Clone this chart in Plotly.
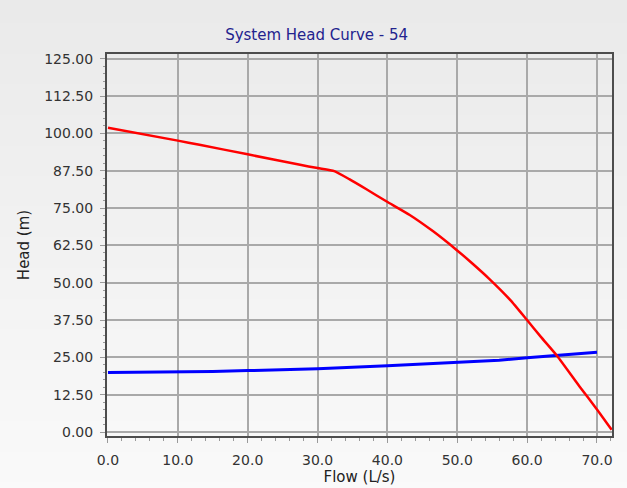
import plotly.graph_objects as go

# Data
pump_flow = [0.0, 10.0, 13.1, 20.0, 27.5, 30.0, 32.4, 34.6, 37.0, 39.9, 43.2, 46.5, 49.9, 52.0, 54.5, 57.6, 59.9, 62.0, 64.3, 67.5, 70.0, 72.1]
pump_head = [101.9, 97.6, 96.2, 93.0, 89.5, 88.4, 87.4, 84.6, 81.3, 77.2, 72.7, 67.3, 61.0, 56.8, 51.5, 44.2, 37.8, 31.8, 25.5, 15.3, 7.6, 0.8]

system_flow = [0.0, 10.0, 15.0, 20.0, 30.0, 40.0, 50.0, 56.0, 60.0, 65.0, 70.0]
system_head = [20.0, 20.1, 20.3, 20.6, 21.2, 22.2, 23.4, 24.1, 24.9, 25.8, 26.7]

x_ticks = [0, 10, 20, 30, 40, 50, 60, 70]
x_tick_labels = ["0.0", "10.0", "20.0", "30.0", "40.0", "50.0", "60.0", "70.0"]
y_ticks = [0, 12.5, 25, 37.5, 50, 62.5, 75, 87.5, 100, 112.5, 125]
y_tick_labels = ["0.00", "12.50", "25.00", "37.50", "50.00", "62.50", "75.00", "87.50", "100.00", "112.50", "125.00"]

title_text = "System Head Curve - 54"
x_title = "Flow (L/s)"
y_title = "Head (m)"

FONT = "DejaVu Sans"

fig = go.Figure()
fig.add_trace(go.Scatter(x=system_flow, y=system_head, mode="lines",
                         line=dict(color="#0000ff", width=3), showlegend=False))
fig.add_trace(go.Scatter(x=pump_flow, y=pump_head, mode="lines",
                         line=dict(color="#ff0000", width=2.5, shape="spline", smoothing=0.5),
                         showlegend=False))

# background gradient (decoration)
shapes = []
n = 40
c_top = (233, 233, 233)
c_bot = (253, 253, 253)
for i in range(n):
    t = i / (n - 1)
    c = tuple(int(round(c_top[k] + (c_bot[k] - c_top[k]) * t)) for k in range(3))
    shapes.append(dict(type="rect", xref="paper", yref="paper",
                       x0=-0.5, x1=1.5,
                       y0=1.2 - (i + 1) * (1.6 / n) - 0.002, y1=1.2 - i * (1.6 / n),
                       fillcolor="rgb(%d,%d,%d)" % c, line=dict(width=0), layer="below"))

fig.update_layout(
    width=627, height=488,
    margin=dict(l=107, r=15, t=54, b=52),
    paper_bgcolor="#f2f2f2",
    plot_bgcolor="rgba(0,0,0,0)",
    shapes=shapes,
    title=dict(text=title_text, x=0.505, xanchor="center", y=1 - 35 / 488, yanchor="middle",
               yref="container", font=dict(family=FONT, size=15, color="#23238e")),
    font=dict(family=FONT, size=14, color="#333333"),
)

fig.update_xaxes(
    range=[-0.14, 72.15], tickvals=x_ticks, ticktext=x_tick_labels,
    showgrid=True, gridcolor="#a9a9a9", gridwidth=2, zeroline=False,
    showline=True, linecolor="#4d4d4d", linewidth=2, mirror=True,
    ticks="outside", ticklen=5, tickcolor="#9a9a9a", tickwidth=1,
    minor=dict(dtick=2, ticks="outside", ticklen=3, tickcolor="#9a9a9a", showgrid=False),
    tickfont=dict(family=FONT, size=14, color="#333333"),
    ticklabelstandoff=5,
    automargin=False,
    title=dict(text=x_title, standoff=2, font=dict(family=FONT, size=15, color="#222222")),
)
fig.update_yaxes(
    range=[-1.3, 126.6], tickvals=y_ticks, ticktext=y_tick_labels,
    showgrid=True, gridcolor="#a9a9a9", gridwidth=2, zeroline=False,
    showline=True, linecolor="#4d4d4d", linewidth=2, mirror=True,
    ticks="outside", ticklen=5, tickcolor="#9a9a9a", tickwidth=1,
    minor=dict(dtick=2.5, ticks="outside", ticklen=2, tickcolor="#9a9a9a", showgrid=False),
    tickfont=dict(family=FONT, size=14, color="#333333"),
    ticklabelstandoff=4,
    automargin=False,
    title=dict(text=y_title, standoff=11, font=dict(family=FONT, size=15, color="#222222")),
)

fig.write_html("out.html", config={"displayModeBar": False},
               post_script="document.body.style.margin='0';document.body.style.overflow='hidden';")
